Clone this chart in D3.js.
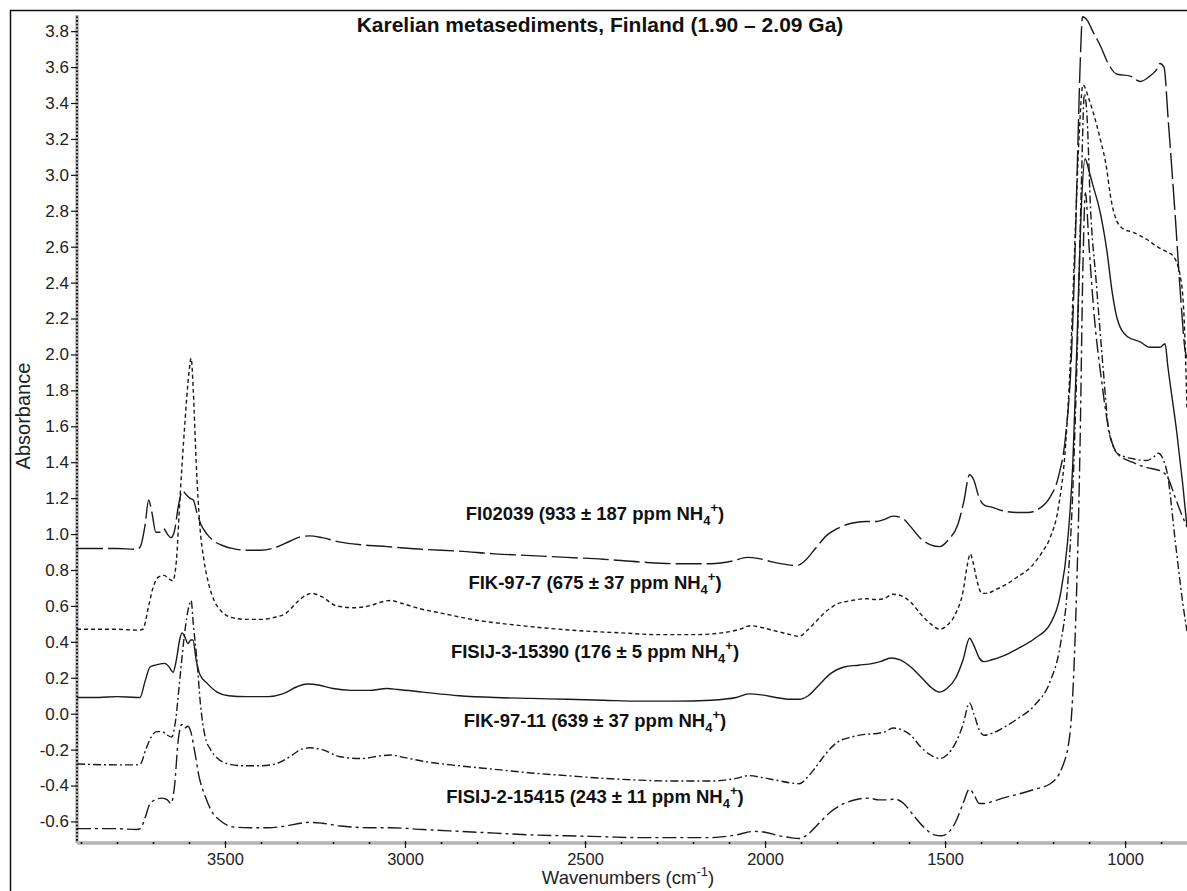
<!DOCTYPE html>
<html><head><meta charset="utf-8">
<script src="https://cdn.jsdelivr.net/npm/d3@7"></script>
<style>
html,body{margin:0;padding:0;background:#fff;}
svg{display:block;font-family:"Liberation Sans",Arial,Helvetica,sans-serif;}
</style></head><body>
<svg id="chart" width="1187" height="891"></svg>
<script>
// ---- text ----
const chartTitle = "Karelian metasediments, Finland (1.90 \u2013 2.09 Ga)";
const yAxisTitle = "Absorbance";
const xAxisTitle = "Wavenumbers (cm";

// ---- ticks ----
const yTickValues = [-0.6,-0.4,-0.2,0.0,0.2,0.4,0.6,0.8,1.0,1.2,1.4,1.6,1.8,2.0,2.2,2.4,2.6,2.8,3.0,3.2,3.4,3.6,3.8];
const xTickValues = [3500,3000,2500,2000,1500,1000];

// ---- samples ----
const sampleNames = ["FI02039","FIK-97-7","FISIJ-3-15390","FIK-97-11","FISIJ-2-15415"];
const samplePpm   = ["933 \u00b1 187","675 \u00b1 37","176 \u00b1 5","639 \u00b1 37","243 \u00b1 11"];
const labelLevels = [1.12, 0.735, 0.35, -0.035, -0.46];

// ---- spectra: [wavenumber cm-1, absorbance] ----
const fi02039 = [[3911,0.92],[3800,0.92],[3745,0.915],[3735,0.93],[3722,1.05],[3712,1.19],[3703,1.12],[3692,1.01],[3680,1.01],[3670,1.03],[3660,1.0],[3650,0.98],[3640,1.02],[3630,1.15],[3618,1.24],[3608,1.22],[3598,1.2],[3588,1.19],[3578,1.12],[3566,1.05],[3550,1.0],[3530,0.96],[3505,0.935],[3480,0.92],[3440,0.91],[3400,0.91],[3360,0.925],[3320,0.96],[3290,0.985],[3265,0.99],[3230,0.98],[3180,0.955],[3120,0.94],[3050,0.93],[2950,0.915],[2850,0.905],[2750,0.89],[2650,0.88],[2550,0.87],[2450,0.86],[2350,0.845],[2250,0.835],[2150,0.835],[2090,0.85],[2050,0.87],[2020,0.865],[1980,0.845],[1940,0.83],[1910,0.825],[1890,0.85],[1860,0.92],[1830,0.99],[1800,1.03],[1760,1.06],[1720,1.07],[1690,1.07],[1670,1.08],[1645,1.1],[1620,1.09],[1595,1.04],[1570,0.98],[1540,0.94],[1515,0.93],[1490,0.97],[1465,1.05],[1448,1.18],[1432,1.33],[1420,1.3],[1405,1.2],[1390,1.16],[1370,1.15],[1340,1.13],[1300,1.12],[1270,1.12],[1240,1.14],[1210,1.2],[1185,1.32],[1165,1.55],[1150,1.95],[1140,2.5],[1132,3.1],[1125,3.6],[1118,3.88],[1105,3.86],[1090,3.8],[1069,3.72],[1047,3.62],[1022,3.56],[986,3.55],[958,3.52],[931,3.55],[911,3.59],[903,3.62],[892,3.6],[880,3.3],[860,2.75],[845,2.3],[833,2.02],[828,1.98]];

const fik977 = [[3911,0.47],[3800,0.47],[3740,0.465],[3728,0.47],[3712,0.6],[3700,0.7],[3685,0.76],[3669,0.77],[3655,0.75],[3645,0.74],[3635,0.85],[3625,1.2],[3612,1.6],[3600,1.9],[3594,1.98],[3588,1.8],[3580,1.4],[3570,1.05],[3558,0.85],[3545,0.72],[3530,0.63],[3510,0.57],[3480,0.535],[3440,0.525],[3400,0.525],[3365,0.535],[3330,0.56],[3300,0.62],[3275,0.66],[3260,0.67],[3230,0.65],[3190,0.6],[3140,0.59],[3100,0.6],[3060,0.625],[3040,0.63],[3010,0.615],[2960,0.585],[2900,0.56],[2800,0.52],[2700,0.495],[2600,0.475],[2500,0.46],[2400,0.45],[2300,0.44],[2200,0.44],[2120,0.45],[2070,0.47],[2040,0.49],[2010,0.48],[1970,0.46],[1930,0.44],[1905,0.43],[1885,0.46],[1860,0.51],[1830,0.57],[1800,0.61],[1760,0.63],[1720,0.64],[1690,0.635],[1665,0.645],[1645,0.665],[1620,0.655],[1595,0.62],[1570,0.56],[1540,0.5],[1515,0.47],[1495,0.49],[1470,0.56],[1450,0.68],[1438,0.83],[1430,0.89],[1422,0.84],[1410,0.73],[1398,0.67],[1385,0.67],[1360,0.69],[1330,0.72],[1300,0.76],[1260,0.82],[1230,0.9],[1208,0.98],[1185,1.15],[1165,1.5],[1150,2.05],[1138,2.7],[1128,3.2],[1117,3.5],[1100,3.42],[1089,3.35],[1069,3.2],[1050,3.02],[1042,2.9],[1028,2.77],[1006,2.7],[978,2.68],[939,2.64],[911,2.6],[883,2.57],[867,2.55],[847,2.44],[836,2.2],[828,1.7]];

const fisij3 = [[3911,0.09],[3850,0.09],[3800,0.095],[3745,0.09],[3736,0.09],[3722,0.18],[3708,0.26],[3694,0.27],[3667,0.28],[3655,0.26],[3644,0.23],[3635,0.3],[3625,0.42],[3619,0.45],[3610,0.42],[3603,0.39],[3595,0.41],[3589,0.41],[3580,0.3],[3570,0.22],[3550,0.17],[3522,0.12],[3490,0.1],[3440,0.095],[3380,0.095],[3340,0.11],[3300,0.15],[3272,0.165],[3240,0.16],[3200,0.14],[3150,0.13],[3100,0.13],[3050,0.14],[3020,0.135],[2950,0.12],[2850,0.1],[2750,0.09],[2650,0.085],[2550,0.08],[2450,0.075],[2350,0.07],[2250,0.07],[2150,0.075],[2080,0.09],[2045,0.11],[2010,0.105],[1970,0.09],[1930,0.08],[1905,0.08],[1880,0.1],[1850,0.16],[1820,0.22],[1780,0.26],[1740,0.27],[1700,0.28],[1680,0.29],[1650,0.31],[1625,0.3],[1595,0.26],[1565,0.2],[1535,0.14],[1515,0.12],[1495,0.14],[1470,0.2],[1450,0.3],[1432,0.42],[1420,0.38],[1405,0.31],[1392,0.29],[1370,0.3],[1340,0.32],[1300,0.36],[1250,0.42],[1208,0.5],[1180,0.66],[1160,0.95],[1145,1.4],[1133,2.1],[1122,2.8],[1111,3.09],[1100,3.02],[1089,2.94],[1069,2.79],[1050,2.57],[1036,2.35],[1022,2.2],[994,2.1],[958,2.07],[931,2.04],[903,2.04],[889,2.06],[881,1.93],[856,1.56],[840,1.28],[828,1.04]];

const fik9711 = [[3911,-0.28],[3800,-0.285],[3745,-0.285],[3735,-0.28],[3720,-0.2],[3705,-0.13],[3690,-0.1],[3675,-0.1],[3660,-0.12],[3648,-0.13],[3638,-0.05],[3625,0.2],[3612,0.45],[3600,0.6],[3594,0.63],[3588,0.5],[3578,0.3],[3568,0.05],[3556,-0.12],[3540,-0.2],[3520,-0.25],[3490,-0.28],[3450,-0.29],[3400,-0.29],[3360,-0.28],[3320,-0.24],[3290,-0.2],[3265,-0.19],[3230,-0.2],[3180,-0.24],[3120,-0.25],[3070,-0.235],[3040,-0.23],[3000,-0.245],[2950,-0.265],[2850,-0.29],[2750,-0.31],[2650,-0.33],[2550,-0.345],[2450,-0.36],[2350,-0.37],[2250,-0.375],[2150,-0.375],[2080,-0.36],[2045,-0.345],[2010,-0.355],[1970,-0.37],[1930,-0.385],[1905,-0.39],[1885,-0.36],[1860,-0.3],[1830,-0.22],[1800,-0.16],[1760,-0.13],[1720,-0.115],[1690,-0.11],[1665,-0.1],[1645,-0.08],[1620,-0.09],[1595,-0.12],[1570,-0.18],[1540,-0.23],[1515,-0.25],[1495,-0.23],[1470,-0.16],[1450,-0.06],[1432,0.06],[1420,0.0],[1405,-0.09],[1392,-0.12],[1370,-0.11],[1340,-0.08],[1300,-0.03],[1250,0.05],[1208,0.18],[1180,0.38],[1160,0.7],[1145,1.25],[1133,2.0],[1122,2.9],[1113,3.45],[1105,3.3],[1097,2.86],[1080,2.4],[1060,1.9],[1047,1.6],[1035,1.5],[1022,1.45],[980,1.42],[939,1.41],[920,1.43],[908,1.45],[895,1.42],[883,1.34],[860,0.95],[840,0.62],[828,0.46]];

const fisij2 = [[3911,-0.64],[3800,-0.64],[3745,-0.645],[3735,-0.64],[3722,-0.58],[3708,-0.5],[3694,-0.48],[3675,-0.47],[3660,-0.48],[3650,-0.5],[3640,-0.4],[3630,-0.15],[3620,-0.06],[3612,-0.08],[3603,-0.07],[3595,-0.1],[3585,-0.2],[3572,-0.35],[3555,-0.46],[3535,-0.55],[3510,-0.6],[3480,-0.63],[3430,-0.635],[3380,-0.635],[3330,-0.625],[3290,-0.61],[3265,-0.605],[3230,-0.61],[3180,-0.625],[3100,-0.635],[3040,-0.635],[2950,-0.645],[2850,-0.655],[2750,-0.665],[2650,-0.675],[2550,-0.68],[2450,-0.685],[2350,-0.69],[2250,-0.69],[2150,-0.69],[2080,-0.675],[2030,-0.655],[2000,-0.66],[1960,-0.68],[1930,-0.69],[1905,-0.695],[1880,-0.67],[1850,-0.61],[1820,-0.55],[1780,-0.5],[1740,-0.475],[1710,-0.47],[1685,-0.48],[1660,-0.48],[1640,-0.475],[1615,-0.5],[1590,-0.56],[1560,-0.63],[1530,-0.675],[1510,-0.68],[1490,-0.66],[1470,-0.6],[1450,-0.5],[1432,-0.42],[1420,-0.45],[1405,-0.5],[1390,-0.5],[1370,-0.49],[1340,-0.47],[1300,-0.45],[1250,-0.42],[1208,-0.39],[1175,-0.3],[1153,-0.11],[1139,0.41],[1125,1.5],[1117,2.5],[1110,2.9],[1100,2.6],[1085,2.2],[1065,1.85],[1047,1.6],[1022,1.45],[980,1.4],[939,1.37],[900,1.35],[883,1.32],[860,1.2],[845,1.12],[828,1.04]];

const spectra = [fi02039, fik977, fisij3, fik9711, fisij2];
const dashStyles = ["26,5", "4,3", null, "8,3,2,3", "14,4,3,4"];

// ---- layout ----
const svg = d3.select("#chart");
const plotLeft = 77, plotRight = 1187, plotTop = 15, plotBottom = 843;

const x = d3.scaleLinear().domain([3911, 828]).range([plotLeft, plotRight]);
const y = d3.scaleLinear().domain([-0.72, 3.89]).range([plotBottom, plotTop]);

// outer frame
svg.append("rect").attr("x", 10.5).attr("y", 10.5).attr("width", 1400).attr("height", 1200)
  .attr("fill", "none").attr("stroke", "#111").attr("stroke-width", 1.5);

// clip for spectra
svg.append("clipPath").attr("id", "plotClip").append("rect")
  .attr("x", plotLeft).attr("y", plotTop - 2).attr("width", plotRight - plotLeft).attr("height", plotBottom - plotTop + 2);

// ---- axes ----
const yMinor = d3.range(-0.70, 3.90, 0.02).map(v => +v.toFixed(2));
const xMinor = d3.range(3900, 800, -100);

// gray axis bars
svg.append("line").attr("x1", plotLeft).attr("x2", plotLeft).attr("y1", plotTop).attr("y2", plotBottom)
  .attr("stroke", "#b4b4b4").attr("stroke-width", 3.5);
svg.append("line").attr("x1", plotLeft).attr("x2", plotRight).attr("y1", plotBottom).attr("y2", plotBottom)
  .attr("stroke", "#b4b4b4").attr("stroke-width", 3.5);

// minor ticks as dots on the bars
const yMinorAxis = svg.append("g").attr("transform", `translate(${plotLeft + 1},0)`)
  .call(d3.axisLeft(y).tickValues(yMinor).tickSize(2).tickSizeOuter(0).tickFormat(""));
yMinorAxis.select(".domain").remove();
yMinorAxis.selectAll(".tick line").attr("stroke", "#111").attr("stroke-width", 1.6);

const xMinorAxis = svg.append("g").attr("transform", `translate(0,${plotBottom - 1})`)
  .call(d3.axisBottom(x).tickValues(xMinor).tickSize(2).tickSizeOuter(0).tickFormat(""));
xMinorAxis.select(".domain").remove();
xMinorAxis.selectAll(".tick line").attr("stroke", "#111").attr("stroke-width", 1.6);

// major y ticks with labels
const yAxis = svg.append("g").attr("transform", `translate(${plotLeft - 1},0)`)
  .call(d3.axisLeft(y).tickValues(yTickValues).tickSize(5).tickSizeOuter(0)
    .tickPadding(2).tickFormat(d => d3.format(".1f")(d).replace("\u2212", "-")));
yAxis.select(".domain").remove();
yAxis.selectAll(".tick line").attr("stroke", "#111").attr("stroke-width", 1.2);
yAxis.selectAll(".tick text").attr("font-size", 17).attr("fill", "#222")
  .attr("font-family", "'Liberation Sans', Arial, sans-serif");

// major x ticks with labels
const xAxis = svg.append("g").attr("transform", `translate(0,${plotBottom - 2})`)
  .call(d3.axisBottom(x).tickValues(xTickValues).tickSize(7).tickSizeOuter(0).tickPadding(5)
    .tickFormat(d3.format("d")));
xAxis.select(".domain").remove();
xAxis.selectAll(".tick line").attr("stroke", "#111").attr("stroke-width", 1.2);
xAxis.selectAll(".tick text").attr("font-size", 16.5).attr("fill", "#222")
  .attr("font-family", "'Liberation Sans', Arial, sans-serif");

// axis titles
svg.append("text").attr("transform", `translate(30,416) rotate(-90)`)
  .attr("text-anchor", "middle").attr("font-size", 20).attr("fill", "#222").text(yAxisTitle);

const xt = svg.append("text").attr("x", 628).attr("y", 884).attr("text-anchor", "middle")
  .attr("font-size", 18.5).attr("fill", "#222");
xt.append("tspan").text(xAxisTitle);
xt.append("tspan").attr("font-size", 13).attr("dy", -8).text("-1");
xt.append("tspan").attr("dy", 8).text(")");

// title
svg.append("text").attr("x", 600).attr("y", 32).attr("text-anchor", "middle")
  .attr("font-size", 21).attr("font-weight", "bold").attr("fill", "#111").text(chartTitle);

// ---- spectra ----
const line = d3.line().x(d => x(d[0])).y(d => y(d[1])).curve(d3.curveMonotoneX);
const g = svg.append("g").attr("clip-path", "url(#plotClip)");
spectra.forEach((s, i) => {
  g.append("path").datum(s).attr("d", line)
    .attr("fill", "none").attr("stroke", "#1a1a1a").attr("stroke-width", 1.4)
    .attr("stroke-linejoin", "round")
    .attr("stroke-dasharray", dashStyles[i]);
});

// ---- sample labels ----
sampleNames.forEach((name, i) => {
  const t = svg.append("text").attr("x", 595).attr("y", y(labelLevels[i]) + 7)
    .attr("text-anchor", "middle").attr("font-size", 18.5).attr("font-weight", "bold").attr("fill", "#111");
  t.append("tspan").text(`${name} (${samplePpm[i]} ppm NH`);
  t.append("tspan").attr("font-size", 13).attr("dy", 5).text("4");
  t.append("tspan").attr("font-size", 13).attr("dy", -13).text("+");
  t.append("tspan").attr("dy", 8).text(")");
});
</script>
</body></html>
